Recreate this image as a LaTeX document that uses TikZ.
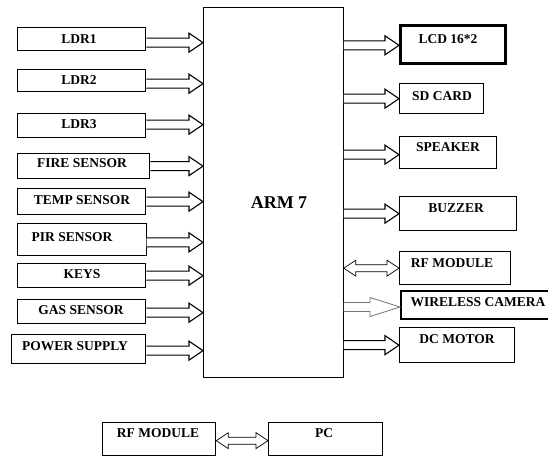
\documentclass[tikz,border=0pt]{standalone}
\usepackage{fontspec}
\setmainfont{Liberation Serif}
\usetikzlibrary{calc}
\tikzset{
  box/.style={draw=black, line width=1.3pt, fill=white, anchor=north west, inner sep=0pt},
  lbl/.style={font=\fontsize{13.5}{15}\selectfont\bfseries, inner sep=0pt},
  harrow/.style={draw=black, line width=1.1pt, fill=white, line join=miter,
    to path={let \p1=(\tikztostart), \p2=(\tikztotarget) in
      ({\x1},{\y1+4.5pt}) -- ({\x2-14pt},{\y1+4.5pt}) -- ({\x2-14pt},{\y1+9.5pt}) -- ({\x2},{\y1})
      -- ({\x2-14pt},{\y1-9.5pt}) -- ({\x2-14pt},{\y1-4.5pt}) -- ({\x1},{\y1-4.5pt})}},
  garrow/.style={draw=black!55, line width=0.8pt, fill=white,
    to path={let \p1=(\tikztostart), \p2=(\tikztotarget) in
      ({\x1},{\y1+4.5pt}) -- ({\x2-30pt},{\y1+4.5pt}) -- ({\x2-30pt},{\y1+9.5pt}) -- ({\x2},{\y1})
      -- ({\x2-30pt},{\y1-9.5pt}) -- ({\x2-30pt},{\y1-4.5pt}) -- ({\x1},{\y1-4.5pt})}},
  darrow/.style={draw=black, line width=0.7pt, fill=white,
    to path={let \p1=(\tikztostart), \p2=(\tikztotarget) in
      ({\x1},{\y1}) -- ({\x1+12pt},{\y1+8pt}) -- ({\x1+12pt},{\y1+3.5pt}) -- ({\x2-12pt},{\y1+3.5pt})
      -- ({\x2-12pt},{\y1+8pt}) -- ({\x2},{\y1}) -- ({\x2-12pt},{\y1-8pt}) -- ({\x2-12pt},{\y1-3.5pt})
      -- ({\x1+12pt},{\y1-3.5pt}) -- ({\x1+12pt},{\y1-8pt}) -- cycle}},
}
\begin{document}
\begin{tikzpicture}[x=1pt,y=-1pt]
\useasboundingbox (0,0) rectangle (548,458);
% ARM box
\node[box, line width=0.8pt, minimum width=140pt, minimum height=370pt] (arm) at (203,7) {};
\node[lbl, font=\fontsize{18}{20}\selectfont\bfseries] (tarm) at (279,203) {ARM 7};
% left boxes
\node[box, minimum width=128pt, minimum height=23pt] (ldr1) at (17,27) {};
\node[lbl] (tldr1) at (79,39) {LDR1};
\node[box, minimum width=128pt, minimum height=22pt] (ldr2) at (17,69) {};
\node[lbl] (tldr2) at (79,80) {LDR2};
\node[box, minimum width=128pt, minimum height=24pt] (ldr3) at (17,113) {};
\node[lbl] (tldr3) at (79,124) {LDR3};
\node[box, minimum width=132pt, minimum height=25pt] (fire) at (17,153) {};
\node[lbl] (tfire) at (82,163) {FIRE SENSOR};
\node[box, minimum width=128pt, minimum height=26pt] (temp) at (17,188) {};
\node[lbl] (ttemp) at (82,200) {TEMP SENSOR};
\node[box, line width=0.7pt, minimum width=129pt, minimum height=32pt] (pir) at (17,223) {};
\node[lbl] (tpir) at (72,237) {PIR SENSOR};
\node[box, minimum width=128pt, minimum height=24pt] (keys) at (17,263) {};
\node[lbl] (tkeys) at (82,274) {KEYS};
\node[box, minimum width=128pt, minimum height=24pt] (gas) at (17,299) {};
\node[lbl] (tgas) at (81,310) {GAS SENSOR};
\node[box, minimum width=134pt, minimum height=29pt] (power) at (11,334) {};
\node[lbl] (tpower) at (75,346) {POWER SUPPLY};
% right boxes
\node[box, line width=2.6pt, minimum width=105pt, minimum height=38pt] (lcd) at (399,24) {};
\node[lbl] (tlcd) at (448,39) {LCD 16*2};
\node[box, minimum width=84pt, minimum height=30pt] (sd) at (399,83) {};
\node[lbl] (tsd) at (442,96) {SD CARD};
\node[box, minimum width=97pt, minimum height=32pt] (spk) at (399,136) {};
\node[lbl] (tspk) at (448,147) {SPEAKER};
\node[box, minimum width=117pt, minimum height=34pt] (buz) at (399,196) {};
\node[lbl] (tbuz) at (456,208) {BUZZER};
\node[box, minimum width=111pt, minimum height=33pt] (rf) at (399,251) {};
\node[lbl] (trf) at (452,263) {RF MODULE};
\node[box, line width=2pt, minimum width=152pt, minimum height=28pt] (cam) at (400,290) {};
\node[lbl] (tcam) at (478,302) {WIRELESS CAMERA};
\node[box, minimum width=115pt, minimum height=35pt] (dc) at (399,327) {};
\node[lbl] (tdc) at (457,339) {DC MOTOR};
% bottom
\node[box, minimum width=113pt, minimum height=33pt] (rf2) at (102,422) {};
\node[lbl] (trf2) at (158,433) {RF MODULE};
\node[box, minimum width=114pt, minimum height=33pt] (pc) at (268,422) {};
\node[lbl] (tpc) at (324,433) {PC};
% arrows left
\draw[harrow] ([yshift=-3.5pt]ldr1.east) to ([yshift=-3.5pt]arm.west |- ldr1.east);
\draw[harrow] ([yshift=-3pt]ldr2.east) to (arm.west |- ldr2.east);
\draw[harrow] ([yshift=1pt]ldr3.east) to (arm.west |- ldr3.east);
\draw[harrow] ([yshift=0pt]fire.east) to (arm.west |- fire.east);
\draw[harrow] ([yshift=0pt]temp.east) to (arm.west |- temp.east);
\draw[harrow] ([yshift=-3pt]pir.east) to (arm.west |- pir.east);
\draw[harrow] ([yshift=0pt]keys.east) to (arm.west |- keys.east);
\draw[harrow] ([yshift=-1pt]gas.east) to (arm.west |- gas.east);
\draw[harrow] ([yshift=-1.5pt]power.east) to (arm.west |- power.east);
% arrows right
\draw[harrow] ([yshift=-1pt]arm.east |- lcd.west) to (lcd.west);
\draw[harrow] ([yshift=0pt]arm.east |- sd.west) to (sd.west);
\draw[harrow] ([yshift=-2pt]arm.east |- spk.west) to (spk.west);
\draw[harrow] ([yshift=-0pt]arm.east |- buz.west) to (buz.west);
\draw[darrow] ([yshift=0pt]arm.east |- rf.west) to (rf.west);
\draw[garrow] ([yshift=-2pt]arm.east |- cam.west) to (cam.west);
\draw[harrow] ([yshift=0pt]arm.east |- dc.west) to (dc.west);
\draw[darrow] ([yshift=-1.5pt]rf2.east) to (pc.west);
\end{tikzpicture}
\end{document}
